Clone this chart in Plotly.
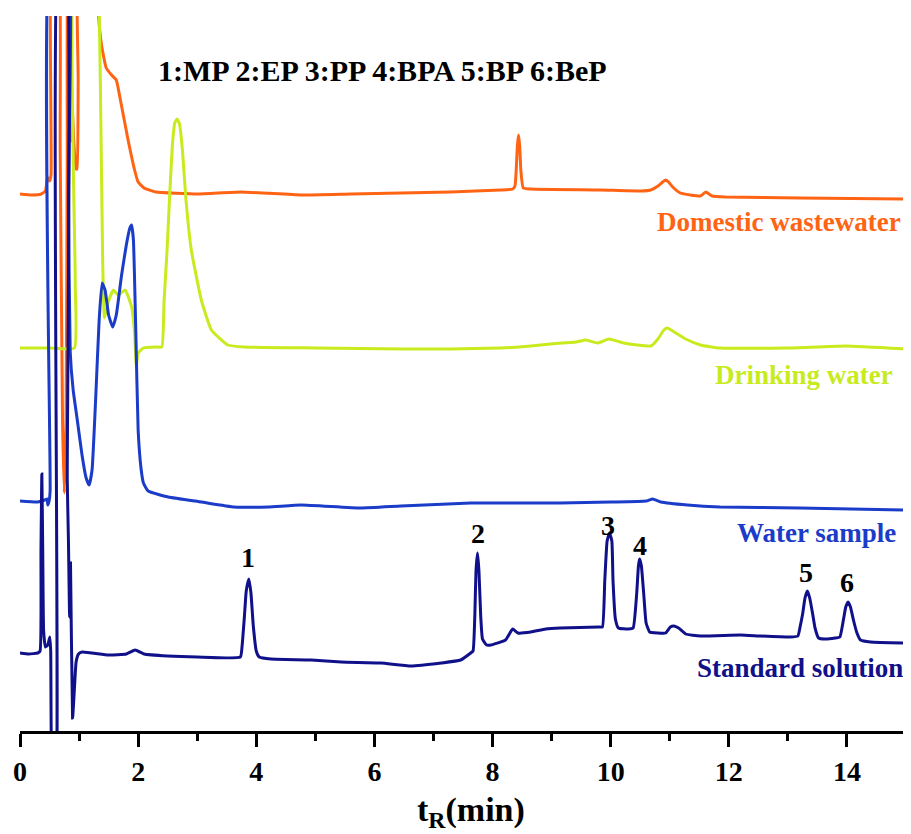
import plotly.graph_objects as go

# ---------------- data (retention time in min, detector signal in a.u.) ----------------
ww_t = [0.00, 0.20, 0.36, 0.43, 0.46, 0.48, 0.50, 0.525, 0.545, 0.64, 0.68, 0.72, 0.75, 0.78, 0.80, 0.82,
        0.84, 0.865, 0.885, 0.91, 0.95, 0.965, 0.985, 1.00, 1.30, 1.33, 1.38, 1.46, 1.55, 1.63, 1.70, 1.83,
        1.94, 2.00, 2.10, 2.30, 3.00, 3.74, 4.76, 5.60, 6.45, 7.29, 8.14, 8.34, 8.38, 8.40, 8.42, 8.44, 8.46,
        8.48, 8.52, 8.65, 9.83, 10.51, 10.68, 10.80, 10.88, 10.93, 10.98, 11.05, 11.18, 11.35, 11.52, 11.61,
        11.72, 11.94, 13.21, 15.00]
ww_s = [537, 536, 537, 540, 551, 553, 550, 556, 800, 800, 581, 311, 238, 311, 581, 800,
        800, 590, 623, 590, 562, 562, 650, 800, 811, 716, 686, 663, 656, 651, 631, 591,
        561, 549, 543, 539, 537, 539, 536, 537, 538, 539, 541, 542, 545, 560, 585, 596, 585,
        560, 543, 542, 541, 540, 541, 545, 549, 551, 549, 544, 538, 536, 535, 539,
        535, 534, 533, 532]

dw_t = [0.00, 0.50, 0.92, 0.935, 0.95, 1.31, 1.33, 1.36, 1.40, 1.43, 1.50, 1.58, 1.66, 1.78, 1.89, 1.94,
        1.97, 2.00, 2.09, 2.30, 2.40, 2.44, 2.49, 2.53, 2.58, 2.62, 2.66, 2.70, 2.75, 2.81, 2.90, 3.07,
        3.24, 3.52, 3.80, 5.00, 6.50, 7.29, 8.14, 8.65, 8.98, 9.41, 9.58, 9.78, 9.97, 10.22, 10.68, 10.80,
        10.90, 10.96, 11.05, 11.27, 11.52, 11.85, 13.00, 13.98, 15.00]
dw_s = [383, 383, 383, 450, 800, 800, 760, 650, 470, 413, 430, 441, 436, 441, 424, 398,
        364, 378, 383, 384, 384, 431, 481, 531, 586, 608, 612, 607, 581, 531, 481, 431,
        401, 386, 384, 383, 382, 382, 383, 385, 387, 389, 391, 388, 392, 388, 385, 392,
        401, 403, 400, 392, 386, 383, 383, 385, 382]

ws_t = [0.00, 0.30, 0.42, 0.46, 0.47, 0.49, 0.51, 0.53, 0.80, 0.82, 0.85, 0.90, 0.97, 1.05, 1.12, 1.17,
        1.22, 1.28, 1.34, 1.39, 1.44, 1.50, 1.57, 1.63, 1.72, 1.80, 1.86, 1.89, 1.92, 1.96, 2.00, 2.05,
        2.09, 2.17, 2.51, 3.07, 3.63, 4.20, 4.76, 5.77, 6.45, 7.63, 9.15, 10.00, 10.60, 10.71, 10.85,
        11.30, 11.85, 13.20, 15.00]
ws_s = [230, 229, 231, 232, 226, 229, 240, 800, 800, 531, 379, 341, 311, 276, 253, 246,
        261, 331, 411, 448, 441, 416, 404, 416, 456, 486, 503, 506, 491, 401, 301, 262,
        248, 240, 234, 229, 224, 224, 226, 223, 225, 228, 228, 229, 230, 232, 229,
        226, 224, 223, 221]

ss_t = [0.00, 0.15, 0.30, 0.34, 0.355, 0.37, 0.385, 0.40, 0.43, 0.47, 0.505, 0.52, 0.56, 0.60, 0.66, 0.77,
        0.80, 0.82, 0.84, 0.855, 0.89, 0.92, 0.95, 0.99, 1.05, 1.50, 1.80, 1.95, 2.10, 2.50, 3.00, 3.73,
        3.76, 3.80, 3.83, 3.875, 3.91, 3.95, 4.00, 4.05, 4.25, 4.93, 5.44, 6.11, 6.62, 7.13, 7.46, 7.63,
        7.67, 7.70, 7.72, 7.746, 7.77, 7.80, 7.83, 7.90, 7.97, 8.22, 8.34, 8.43, 8.65, 8.90, 9.15, 9.80,
        9.86, 9.90, 9.94, 9.98, 10.02, 10.04, 10.08, 10.13, 10.30, 10.38, 10.44, 10.47, 10.49, 10.52,
        10.56, 10.60, 10.66, 10.80, 10.93, 11.01, 11.07, 11.15, 11.27, 11.52, 12.20, 12.54, 13.04, 13.17,
        13.21, 13.25, 13.29, 13.33, 13.37, 13.42, 13.46, 13.52, 13.63, 13.80, 13.88, 13.94, 13.98, 14.02,
        14.06, 14.11, 14.17, 14.23, 14.40, 15.00]
ss_s = [78, 77, 78, 80, 180, 257, 180, 100, 84, 86, 94, 80, -80, -80, 800, 800,
        251, 191, 114, 168, 13, 41, 69, 77, 79, 76, 77, 81, 77, 75, 74, 74,
        85, 115, 140, 152, 138, 105, 80, 74, 72, 71, 69, 68, 65, 68, 71, 78,
        80, 115, 160, 178, 160, 115, 92, 86, 86, 91, 102, 98, 99, 102, 103, 104,
        104, 150, 190, 198, 190, 150, 112, 103, 102, 103, 137, 165, 172, 165,
        137, 108, 99, 98, 98, 104, 105, 103, 97, 95, 96, 95, 94, 95,
        105, 117, 133, 140, 133, 117, 103, 93, 92, 93, 94, 111, 124, 129,
        124, 111, 98, 91, 89, 88]

peak_labels = ["1", "2", "3", "4", "5", "6"]
peak_lab_t = [3.86, 7.75, 9.95, 10.49, 13.30, 14.00]
peak_lab_s = [174, 198, 206, 186, 159, 149]

series_names = ["Domestic wastewater", "Drinking water", "Water sample", "Standard solution"]
series_colors = ["#FF6415", "#C8EB1E", "#1A3CC8", "#10108A"]
label_t = [14.95, 14.82, 14.87, 14.99]
label_s = [509, 356, 198, 63]

tick_vals = [0, 2, 4, 6, 8, 10, 12, 14]
minor_vals = [1, 3, 5, 7, 9, 11, 13]
legend_text = "1:MP 2:EP 3:PP 4:BPA 5:BP 6:BeP"

FONT = "Liberation Serif, Times New Roman, serif"

fig = go.Figure()
for t, s, name, col in [(ww_t, ww_s, series_names[0], series_colors[0]),
                        (dw_t, dw_s, series_names[1], series_colors[1]),
                        (ws_t, ws_s, series_names[2], series_colors[2]),
                        (ss_t, ss_s, series_names[3], series_colors[3])]:
    fig.add_trace(go.Scatter(x=t, y=s, mode="lines", name=name,
                             line=dict(color=col, width=3, shape="spline", smoothing=0.4),
                             showlegend=False))

ann = []
for txt, x, y in zip(peak_labels, peak_lab_t, peak_lab_s):
    ann.append(dict(x=x, y=y, xref="x", yref="y", text="<b>%s</b>" % txt, showarrow=False,
                    font=dict(family=FONT, size=28, color="black"), xanchor="center", yanchor="middle"))
for name, col, x, y in zip(series_names, series_colors, label_t, label_s):
    ann.append(dict(x=x, y=y, xref="x", yref="y", text="<b>%s</b>" % name, showarrow=False,
                    font=dict(family=FONT, size=27, color=col), xanchor="right", yanchor="middle"))
ann.append(dict(x=2.31, y=661, xref="x", yref="y", text="<b>%s</b>" % legend_text, showarrow=False,
                font=dict(family=FONT, size=30, color="black"), xanchor="left", yanchor="middle"))
ann.append(dict(x=0.509, y=-0.113, xref="paper", yref="paper", text="<b>t<sub>R</sub>(min)</b>",
                showarrow=False, font=dict(family=FONT, size=34, color="black"),
                xanchor="center", yanchor="middle"))

# the page body adds an 8 px margin, so the figure is sized to fit inside the window
fig.update_layout(
    width=903, height=826,
    margin=dict(l=10, r=5, t=8, b=103),
    paper_bgcolor="white", plot_bgcolor="white",
    annotations=ann,
    xaxis=dict(range=[0, 15], showgrid=False, zeroline=False, showline=True, linecolor="black",
               linewidth=3, ticks="outside", ticklen=13, tickwidth=2.5, tickcolor="black",
               tickvals=tick_vals, ticktext=[str(v) for v in tick_vals],
               tickfont=dict(family=FONT, size=28, color="black", weight="bold"),
               minor=dict(tickvals=minor_vals, ticks="outside", ticklen=7, tickwidth=2.5,
                          tickcolor="black", showgrid=False)),
    yaxis=dict(range=[0, 715], visible=False, showgrid=False, zeroline=False),
)

fig.write_html("out.html")
